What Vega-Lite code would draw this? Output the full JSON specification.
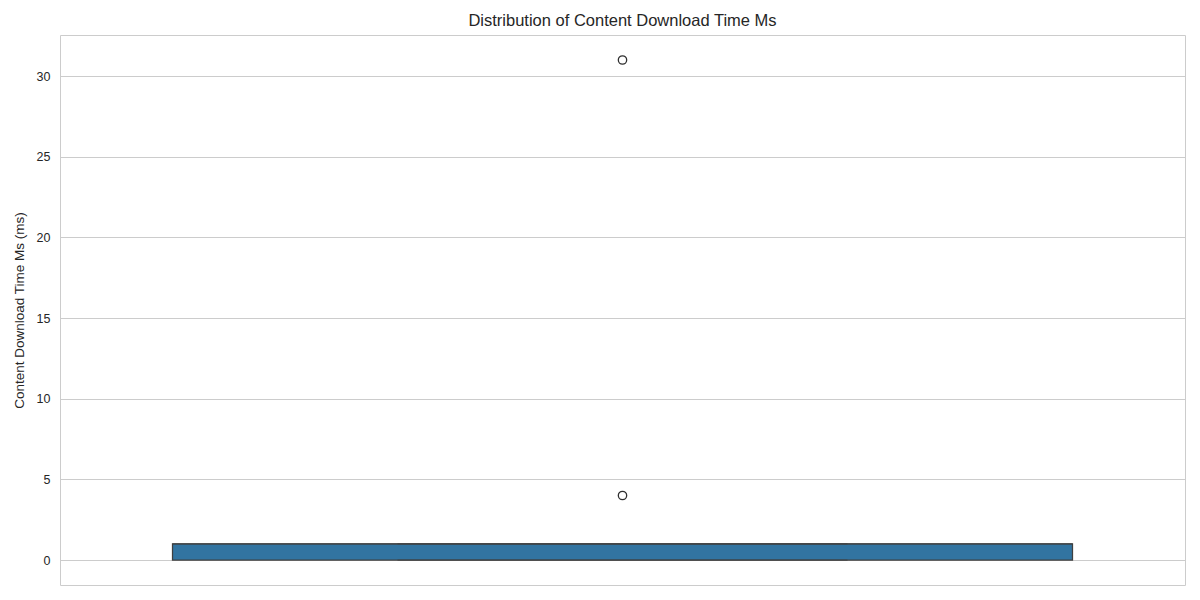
{
  "$schema": "https://vega.github.io/schema/vega-lite/v6.json",
  "autosize": "none",
  "width": 1125,
  "height": 550,
  "padding": {"left": 60, "top": 35, "right": 15, "bottom": 15},
  "background": "white",
  "config": {
    "font": "Liberation Sans",
    "view": {"stroke": "#cccccc", "strokeWidth": 1}
  },
  "title": {
    "text": "Distribution of Content Download Time Ms",
    "fontSize": 16.5,
    "fontWeight": "normal",
    "color": "#262626",
    "font": "Liberation Sans",
    "offset": 6
  },
  "datasets": {
    "summary": [
      {"group": "Content Download Time Ms", "lower": 0, "q1": 0, "median": 1, "q3": 1, "upper": 1}
    ],
    "outliers": [
      {"group": "Content Download Time Ms", "value": 4},
      {"group": "Content Download Time Ms", "value": 31}
    ]
  },
  "encoding": {
    "x": {
      "field": "group",
      "type": "nominal",
      "scale": {"paddingInner": 0, "paddingOuter": 0.125},
      "axis": null
    }
  },
  "layer": [
    {
      "data": {"name": "summary"},
      "mark": {"type": "rule", "color": "#3f3f3f", "strokeWidth": 1.25},
      "encoding": {
        "y": {
          "field": "lower",
          "type": "quantitative",
          "scale": {"domain": [-1.55, 32.55], "nice": false, "zero": false},
          "axis": {
            "title": "Content Download Time Ms (ms)",
            "titleFontSize": 13.5,
            "titleFontWeight": "normal",
            "titleColor": "#262626",
            "titlePadding": 10,
            "values": [0, 5, 10, 15, 20, 25, 30],
            "labelFontSize": 12.5,
            "labelColor": "#262626",
            "labelPadding": 10,
            "ticks": false,
            "domain": false,
            "grid": true,
            "gridColor": "#cccccc",
            "gridWidth": 1
          }
        },
        "y2": {"field": "upper"}
      }
    },
    {
      "data": {"name": "summary"},
      "mark": {"type": "bar", "color": "#3274a1", "stroke": "#3f3f3f", "strokeWidth": 1.25},
      "encoding": {
        "y": {"field": "q1", "type": "quantitative"},
        "y2": {"field": "q3"}
      }
    },
    {
      "data": {"name": "summary"},
      "mark": {"type": "tick", "color": "#3f3f3f", "size": 450, "thickness": 1.25},
      "encoding": {"y": {"field": "lower", "type": "quantitative"}}
    },
    {
      "data": {"name": "summary"},
      "mark": {"type": "tick", "color": "#3f3f3f", "size": 450, "thickness": 1.25},
      "encoding": {"y": {"field": "upper", "type": "quantitative"}}
    },
    {
      "data": {"name": "summary"},
      "mark": {"type": "tick", "color": "#3f3f3f", "size": 900, "thickness": 1.25},
      "encoding": {"y": {"field": "median", "type": "quantitative"}}
    },
    {
      "data": {"name": "outliers"},
      "mark": {"type": "point", "shape": "circle", "filled": false, "stroke": "#2f2f2f", "strokeWidth": 1.3, "size": 70, "opacity": 1},
      "encoding": {"y": {"field": "value", "type": "quantitative"}}
    }
  ]
}
